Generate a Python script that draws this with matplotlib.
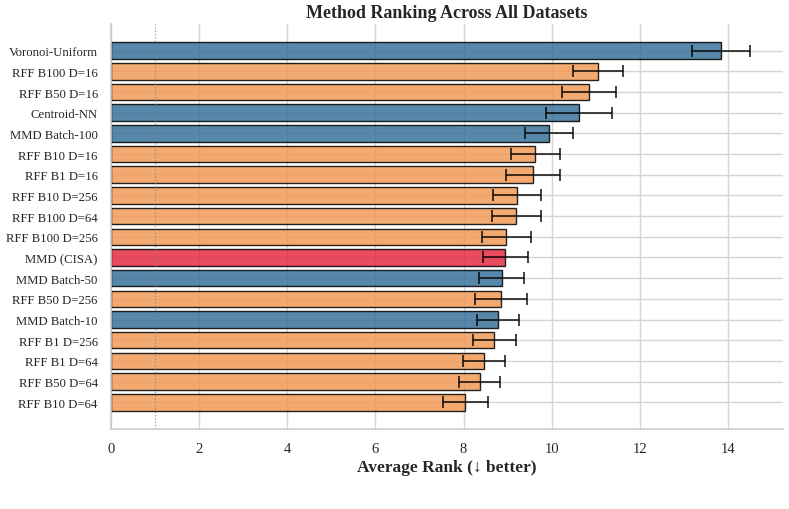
import matplotlib
matplotlib.use("Agg")
import matplotlib.pyplot as plt
import seaborn as sns
import numpy as np

sns.set_theme(style="whitegrid")
plt.rcParams['font.family'] = ['Liberation Serif', 'DejaVu Serif']

methods = ["Voronoi-Uniform", "RFF B100 D=16", "RFF B50 D=16", "Centroid-NN",
           "MMD Batch-100", "RFF B10 D=16", "RFF B1 D=16", "RFF B10 D=256",
           "RFF B100 D=64", "RFF B100 D=256", "MMD (CISA)", "MMD Batch-50",
           "RFF B50 D=256", "MMD Batch-10", "RFF B1 D=256", "RFF B1 D=64",
           "RFF B50 D=64", "RFF B10 D=64"]
ranks = [13.85, 11.05, 10.84, 10.62, 9.94, 9.63, 9.58, 9.22, 9.20, 8.97,
         8.95, 8.87, 8.85, 8.78, 8.70, 8.46, 8.37, 8.04]
errors = [0.66, 0.57, 0.61, 0.745, 0.55, 0.55, 0.62, 0.545, 0.555, 0.56,
          0.51, 0.51, 0.585, 0.48, 0.48, 0.475, 0.465, 0.505]
kinds = ["base", "rff", "rff", "base", "base", "rff", "rff", "rff", "rff", "rff",
         "cisa", "base", "rff", "base", "rff", "rff", "rff", "rff"]

palette = {"base": "#3A739B", "rff": "#F29B57", "cisa": "#E42C42"}
colors = [palette[k] for k in kinds]

fig = plt.figure(figsize=(7.89, 5.10), dpi=100)
ax = fig.add_axes([0.1407, 0.157, 0.8517, 0.794])

y = np.arange(len(methods))
ax.barh(y, ranks, height=0.8, color=colors, alpha=0.85, edgecolor="black",
        linewidth=1.0, xerr=errors, capsize=4,
        error_kw=dict(ecolor="black", elinewidth=1.3, capthick=1.3, alpha=0.8))
ax.axvline(1, color="gray", linestyle=":", linewidth=0.9, alpha=0.8)

ax.set_yticks(y)
ax.set_yticklabels(methods, fontsize=9.2)
ax.invert_yaxis()
ax.set_xlim(0, 15.25)
ax.set_xticks(np.arange(0, 15, 2))
ax.tick_params(axis='x', labelsize=10.5, pad=3.5)
ax.tick_params(axis='y', pad=3.5)
ax.set_xlabel("Average Rank (↓ better)", fontsize=12.5, fontweight="bold", labelpad=3)
ax.set_title("Method Ranking Across All Datasets", fontsize=13, fontweight="bold", pad=5)
ax.grid(True, color="#d5d5d5", linewidth=1.0)
ax.set_axisbelow(True)
for s in ["top", "right"]:
    ax.spines[s].set_visible(False)
for s in ["left", "bottom"]:
    ax.spines[s].set_color("#cccccc")
    ax.spines[s].set_linewidth(1.2)

fig.savefig("out.png", dpi=100)
